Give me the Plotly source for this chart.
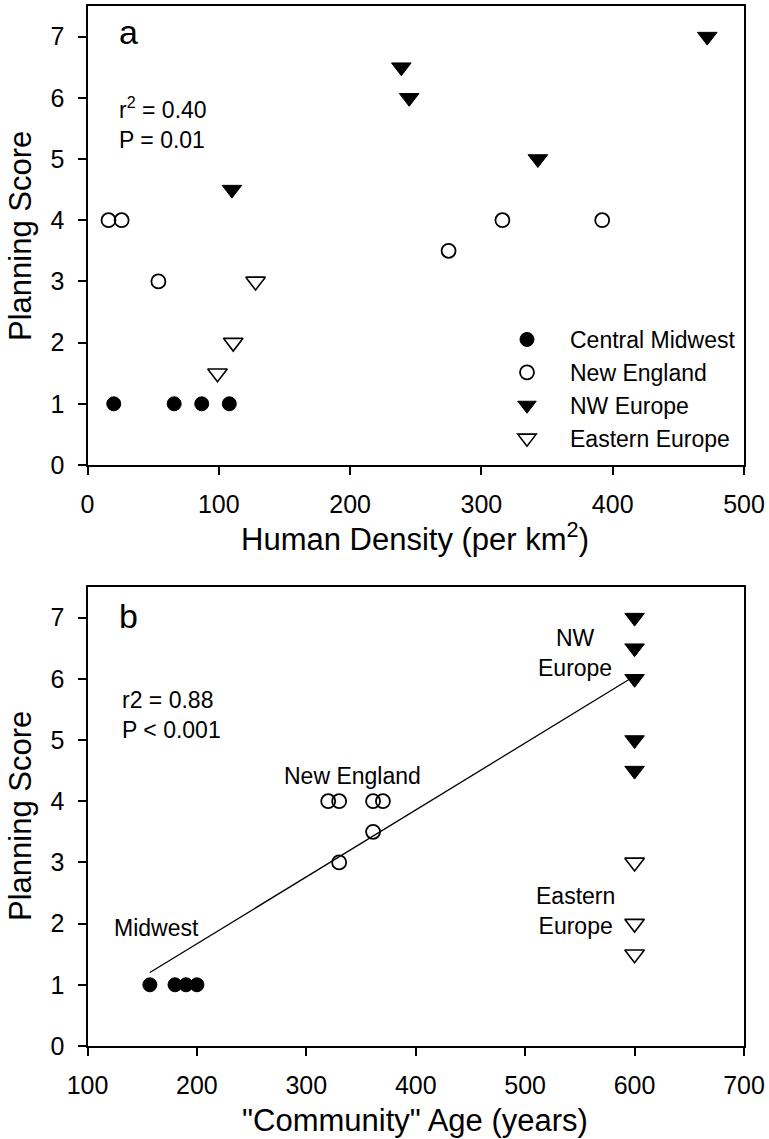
import plotly.graph_objects as go

# ---------------- data ----------------
# Panel a: Human density (per km2) vs planning score
mw_density = [20, 66, 87, 108]
mw_score_a = [1, 1, 1, 1]
ne_density = [16, 26, 54, 275, 316, 392]
ne_score_a = [4, 4, 3, 3.5, 4, 4]
nw_density = [110, 239, 245, 343, 472]
nw_score_a = [4.5, 6.5, 6, 5, 7]
ee_density = [99, 111, 128]
ee_score_a = [1.5, 2, 3]

# Panel b: "Community" age (years) vs planning score
mw_age = [157, 180, 190, 200]
mw_score_b = [1, 1, 1, 1]
ne_age = [320, 330, 361, 370, 361, 330]
ne_score_b = [4, 4, 4, 4, 3.5, 3]
nw_age = [600, 600, 600, 600, 600]
nw_score_b = [7, 6.5, 6, 5, 4.5]
ee_age = [600, 600, 600]
ee_score_b = [3, 2, 1.5]

# regression line (panel b)
fit_age = [157, 596]
fit_score = [1.2, 6.0]

series_names = ["Central Midwest", "New England", "NW Europe", "Eastern Europe"]
x_ticks_a = [0, 100, 200, 300, 400, 500]
x_ticks_b = [100, 200, 300, 400, 500, 600, 700]
y_ticks = [0, 1, 2, 3, 4, 5, 6, 7]

# ---------------- figure ----------------
W, H = 769, 1139
FONT = "Liberation Sans, Arial, Helvetica, sans-serif"

def px_x(p):
    return p / W

def px_y(p):
    return 1 - p / H

styles = [
    dict(symbol="circle", size=14, color="black", line=dict(color="black", width=1)),
    dict(symbol="circle-open", size=14, color="black", line=dict(color="black", width=1.8)),
    dict(symbol="triangle-down", size=17, color="black", line=dict(color="black", width=1)),
    dict(symbol="triangle-down-open", size=17, color="black", line=dict(color="black", width=1.6)),
]

fig = go.Figure()

data_a = [(mw_density, mw_score_a), (ne_density, ne_score_a), (nw_density, nw_score_a), (ee_density, ee_score_a)]
data_b = [(mw_age, mw_score_b), (ne_age, ne_score_b), (nw_age, nw_score_b), (ee_age, ee_score_b)]

fig.add_trace(go.Scatter(x=fit_age, y=fit_score, mode="lines", line=dict(color="black", width=1.3),
                         xaxis="x2", yaxis="y2", showlegend=False, hoverinfo="skip"))

for name, (xs, ys), st in zip(series_names, data_a, styles):
    fig.add_trace(go.Scatter(x=xs, y=ys, mode="markers", name=name, marker=st,
                             xaxis="x", yaxis="y", showlegend=True))
for name, (xs, ys), st in zip(series_names, data_b, styles):
    fig.add_trace(go.Scatter(x=xs, y=ys, mode="markers", name=name, marker=st,
                             xaxis="x2", yaxis="y2", showlegend=False))

axis_common = dict(showline=True, linecolor="black", linewidth=2, mirror=True,
                   ticks="outside", ticklen=8, tickwidth=2, tickcolor="black",
                   showgrid=False, zeroline=False, automargin=False,
                   tickfont=dict(family=FONT, size=25, color="black"))

dom_x = [px_x(87.5), px_x(744)]
fig.update_layout(
    template="none",
    width=W, height=H,
    margin=dict(l=0, r=0, t=0, b=0, pad=0),
    paper_bgcolor="white", plot_bgcolor="white",
    font=dict(family=FONT, color="black"),
    xaxis=dict(domain=dom_x, range=[0, 500], tickvals=x_ticks_a, anchor="y",
               ticklabelstandoff=8, **axis_common),
    yaxis=dict(domain=[px_y(465), px_y(6)], range=[0, 7.5], tickvals=y_ticks, anchor="x",
               ticklabelstandoff=8, **axis_common),
    xaxis2=dict(domain=dom_x, range=[100, 700], tickvals=x_ticks_b, anchor="y2",
                ticklabelstandoff=8, **axis_common),
    yaxis2=dict(domain=[px_y(1046), px_y(587)], range=[0, 7.5], tickvals=y_ticks, anchor="x2",
                ticklabelstandoff=8, **axis_common),
    legend=dict(x=px_x(484), y=px_y(318), xanchor="left", yanchor="top",
                font=dict(family=FONT, size=23, color="black"),
                bgcolor="rgba(0,0,0,0)", itemwidth=76, tracegroupgap=0),
    showlegend=True,
)

def ann(text, x, y, size=23, xanchor="center", yanchor="middle", align="center"):
    fig.add_annotation(text=text, x=px_x(x), y=px_y(y), xref="paper", yref="paper",
                       showarrow=False, xanchor=xanchor, yanchor=yanchor, align=align,
                       font=dict(family=FONT, size=size, color="black"))

# panel letters
ann("a", 117, 32, size=34, xanchor="left")
ann("b", 117, 616, size=34, xanchor="left")
# statistics
ann("r<sup>2</sup> = 0.40<br>P = 0.01", 117, 123, size=23, xanchor="left", align="left")
ann("r2 = 0.88<br>P &lt; 0.001", 120, 715, size=23, xanchor="left", align="left")
# group labels in panel b
ann("New England", 282, 776, xanchor="left")
ann("NW<br>Europe", 575, 653)
ann("Eastern<br>Europe", 575, 911)
ann("Midwest", 156, 928)
# axis titles
ann("Human Density (per km<sup>2</sup>)", 415, 537, size=31)
ann("\"Community\" Age (years)", 415, 1120, size=31)
fig.add_annotation(text="Planning Score", x=px_x(20), y=px_y(236), xref="paper", yref="paper",
                   showarrow=False, textangle=-90, xanchor="center", yanchor="middle",
                   font=dict(family=FONT, size=31, color="black"))
fig.add_annotation(text="Planning Score", x=px_x(20), y=px_y(816), xref="paper", yref="paper",
                   showarrow=False, textangle=-90, xanchor="center", yanchor="middle",
                   font=dict(family=FONT, size=31, color="black"))

fig.write_html(
    "out.html",
    config={"displayModeBar": False},
    post_script="document.body.style.margin='0';document.body.style.padding='0';"
                "document.body.style.overflow='hidden';",
)
